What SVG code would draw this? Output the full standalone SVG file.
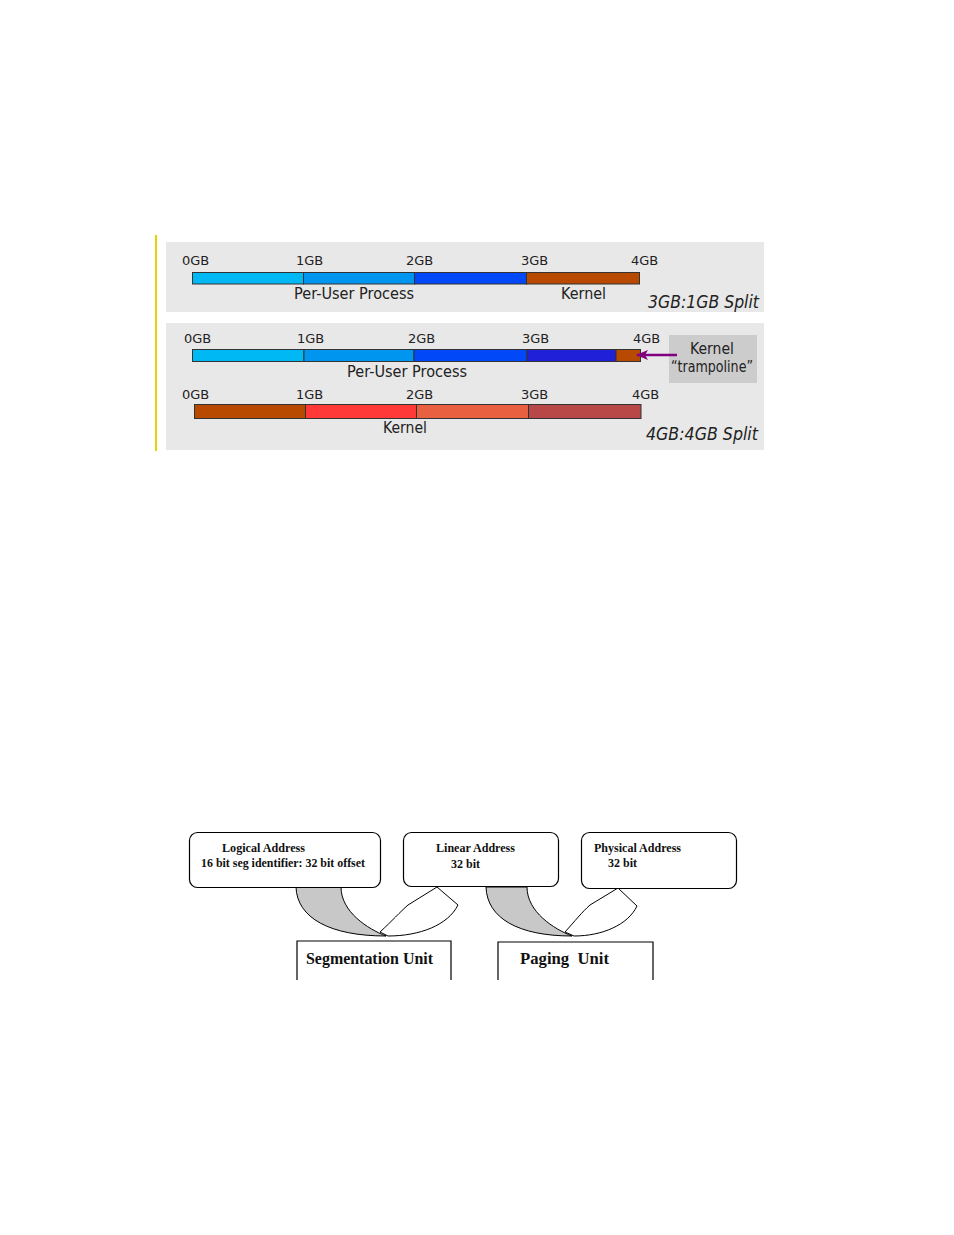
<svg xmlns="http://www.w3.org/2000/svg" width="954" height="1235" viewBox="0 0 954 1235">
<style>
.lbl{font-family:"DejaVu Sans",Verdana,sans-serif;font-size:13px;fill:#222}
.mid{font-family:"DejaVu Sans",Verdana,sans-serif;font-size:15px;fill:#222}
.split{font-family:"DejaVu Sans",Verdana,sans-serif;font-size:17px;font-style:italic;fill:#222}
.seg{stroke:#333;stroke-width:1}
.box{fill:#fff;stroke:#000;stroke-width:1.2}
.tm{font-family:"Liberation Serif","Times New Roman",serif;font-weight:bold;font-size:12px;fill:#111}
.tb{font-family:"Liberation Serif","Times New Roman",serif;font-weight:bold;font-size:16px;fill:#111}
.ln{fill:none;stroke:#000;stroke-width:1.2}
</style>
<defs>
<marker id="ah" markerWidth="12" markerHeight="10" refX="11" refY="5" orient="auto" markerUnits="userSpaceOnUse">
<path d="M0,0 L12,5 L0,10 L3,5 Z" fill="#800080"/>
</marker>
</defs>
<rect width="954" height="1235" fill="#fff"/>

<g id="memory-split">
<line x1="156" y1="235" x2="156" y2="451" stroke="#e6d200" stroke-width="2"/>
<rect x="166" y="242" width="598" height="70" fill="#e8e8e8"/>
<rect x="166" y="323" width="598" height="127" fill="#e8e8e8"/>

<g id="row1">
<rect class="seg" x="192.5" y="272.5" width="111" height="11.5" fill="#00b8f4"/>
<rect class="seg" x="303.5" y="272.5" width="111" height="11.5" fill="#0096f0"/>
<rect class="seg" x="414.5" y="272.5" width="112" height="11.5" fill="#0048f8"/>
<rect class="seg" x="526.5" y="272.5" width="113" height="11.5" fill="#b84a00"/>
<text class="lbl" x="182" y="265">0GB</text>
<text class="lbl" x="296" y="265">1GB</text>
<text class="lbl" x="406" y="265">2GB</text>
<text class="lbl" x="521" y="265">3GB</text>
<text class="lbl" x="631" y="265">4GB</text>
<text class="mid" x="294" y="299" textLength="120" lengthAdjust="spacingAndGlyphs">Per-User Process</text>
<text class="mid" x="561" y="299" textLength="45" lengthAdjust="spacingAndGlyphs">Kernel</text>
<text class="split" x="648" y="308" textLength="111" lengthAdjust="spacingAndGlyphs">3GB:1GB Split</text>
</g>

<g id="row2">
<rect class="seg" x="192.5" y="349.5" width="111.5" height="12" fill="#00b8f4"/>
<rect class="seg" x="304" y="349.5" width="110" height="12" fill="#0096f0"/>
<rect class="seg" x="414" y="349.5" width="113" height="12" fill="#0048f8"/>
<rect class="seg" x="527" y="349.5" width="89" height="12" fill="#2020d8"/>
<rect class="seg" x="616" y="349.5" width="24.5" height="12" fill="#b84a00"/>
<text class="lbl" x="184" y="343">0GB</text>
<text class="lbl" x="297" y="343">1GB</text>
<text class="lbl" x="408" y="343">2GB</text>
<text class="lbl" x="522" y="343">3GB</text>
<text class="lbl" x="633" y="343">4GB</text>
<text class="mid" x="347" y="377" textLength="120" lengthAdjust="spacingAndGlyphs">Per-User Process</text>
</g>

<g id="trampoline">
<rect x="669" y="335" width="88" height="48" fill="#cccccc"/>
<text class="mid" x="712" y="354" text-anchor="middle" textLength="44" lengthAdjust="spacingAndGlyphs">Kernel</text>
<text class="mid" x="712" y="372" text-anchor="middle" textLength="82" lengthAdjust="spacingAndGlyphs">“trampoline”</text>
<line x1="677" y1="355" x2="637" y2="355" stroke="#800080" stroke-width="2.5" marker-end="url(#ah)"/>
</g>

<g id="row3">
<rect class="seg" x="194.5" y="404.5" width="111" height="14" fill="#b84a00"/>
<rect class="seg" x="305.5" y="404.5" width="111" height="14" fill="#ff3838"/>
<rect class="seg" x="416.5" y="404.5" width="112" height="14" fill="#e86040"/>
<rect class="seg" x="528.5" y="404.5" width="112.5" height="14" fill="#b84848"/>
<text class="lbl" x="182" y="399">0GB</text>
<text class="lbl" x="296" y="399">1GB</text>
<text class="lbl" x="406" y="399">2GB</text>
<text class="lbl" x="521" y="399">3GB</text>
<text class="lbl" x="632" y="399">4GB</text>
<text class="mid" x="383" y="433" textLength="44" lengthAdjust="spacingAndGlyphs">Kernel</text>
<text class="split" x="646" y="440" textLength="112" lengthAdjust="spacingAndGlyphs">4GB:4GB Split</text>
</g>
</g>

<g id="connectors">
<path d="M296,887 C297,918 330,936 386,936 C368,929 341,912 341,887 Z" fill="#c8c8c8" stroke="#000" stroke-width="1"/>
<path d="M380,932 C392,921 400,912 408,905 L437,887 L458,905 C448,925 420,936 388,936 Z" fill="#fff" stroke="#000" stroke-width="1"/>
<path d="M486,887 C487,918 518,936 572,936 C554,929 527,912 527,887 Z" fill="#c8c8c8" stroke="#000" stroke-width="1"/>
<path d="M565,932 C575,921 582,912 590,905 L618,888 L637,906 C628,925 602,936 574,936 Z" fill="#fff" stroke="#000" stroke-width="1"/>
</g>

<g id="logical">
<rect class="box" x="189.5" y="832.5" width="191" height="55" rx="8"/>
<text class="tm" x="222" y="852" textLength="83" lengthAdjust="spacingAndGlyphs">Logical Address</text>
<text class="tm" x="201" y="867" textLength="164" lengthAdjust="spacingAndGlyphs">16 bit seg identifier: 32 bit offset</text>
</g>
<g id="linear">
<rect class="box" x="403.5" y="832.5" width="155" height="54" rx="8"/>
<text class="tm" x="436" y="852" textLength="79" lengthAdjust="spacingAndGlyphs">Linear Address</text>
<text class="tm" x="451" y="868" textLength="29" lengthAdjust="spacingAndGlyphs">32 bit</text>
</g>
<g id="physical">
<rect class="box" x="581.5" y="832.5" width="155" height="56" rx="8"/>
<text class="tm" x="594" y="852" textLength="87" lengthAdjust="spacingAndGlyphs">Physical Address</text>
<text class="tm" x="608" y="867" textLength="29" lengthAdjust="spacingAndGlyphs">32 bit</text>
</g>
<g id="segmentation-unit">
<path class="ln" d="M297,980 V941 H451 V980"/>
<text class="tb" x="306" y="964" textLength="127" lengthAdjust="spacingAndGlyphs">Segmentation Unit</text>
</g>
<g id="paging-unit">
<path class="ln" d="M498,980 V942 H653 V980"/>
<text class="tb" x="520" y="964" textLength="89" lengthAdjust="spacingAndGlyphs" xml:space="preserve">Paging  Unit</text>
</g>
</svg>
